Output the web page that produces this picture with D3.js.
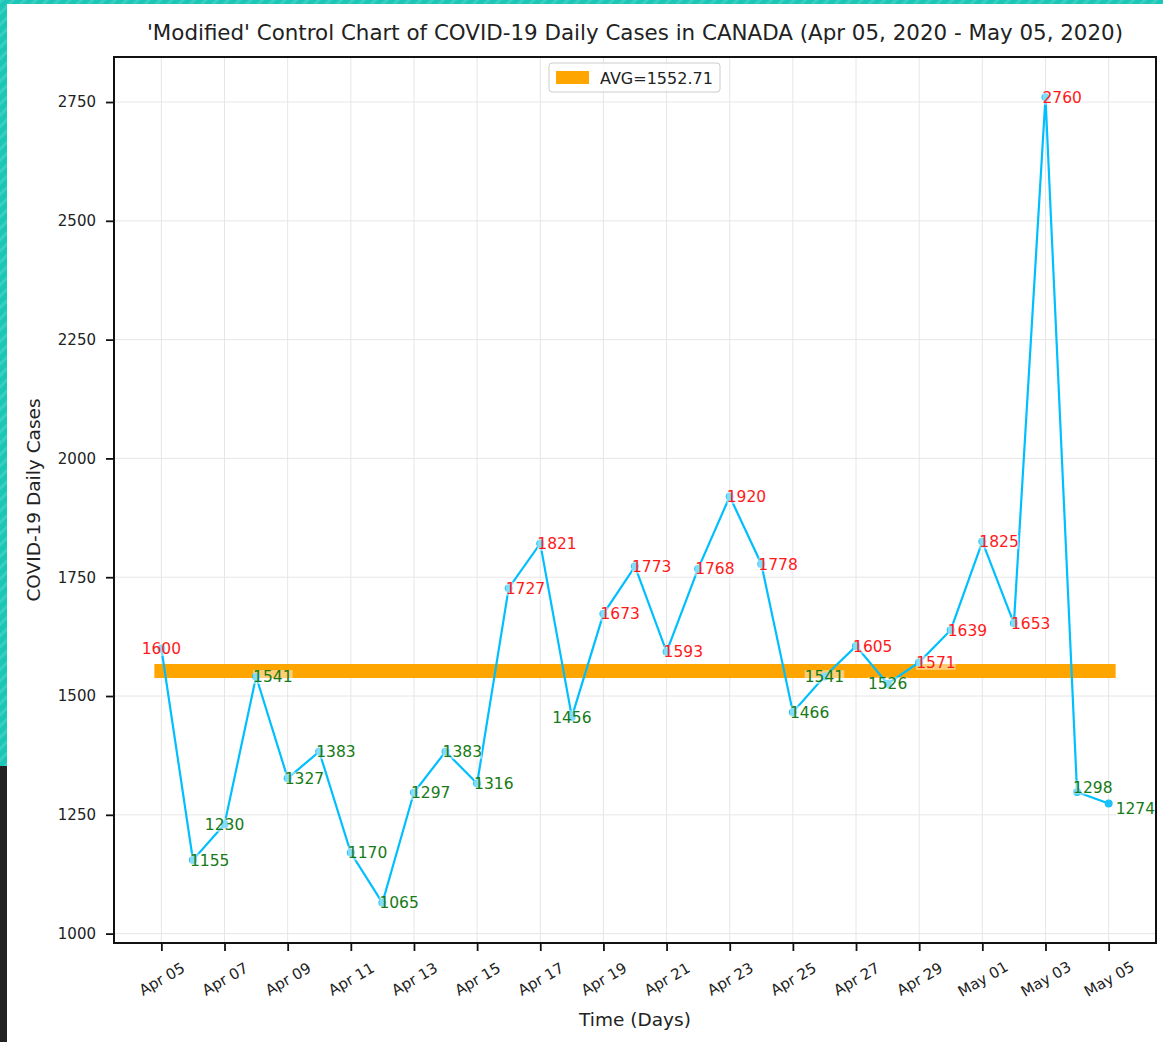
<!DOCTYPE html>
<meta charset="utf-8">
<html>
  <head>
    <style>
      body { margin: 0; background: #fff; }
      text { font-family: "DejaVu Sans", sans-serif; }
    </style>
    <script src="https://d3js.org/d3.v7.min.js"></script>
  </head>
  <body>
<div id="my_dataviz"></div>

<script>

// daily cases, Apr 05 .. May 05 2020
var dates = ["2020-04-05","2020-04-06","2020-04-07","2020-04-08","2020-04-09","2020-04-10","2020-04-11",
             "2020-04-12","2020-04-13","2020-04-14","2020-04-15","2020-04-16","2020-04-17","2020-04-18",
             "2020-04-19","2020-04-20","2020-04-21","2020-04-22","2020-04-23","2020-04-24","2020-04-25",
             "2020-04-26","2020-04-27","2020-04-28","2020-04-29","2020-04-30","2020-05-01","2020-05-02",
             "2020-05-03","2020-05-04","2020-05-05"]
var cases = [1600, 1155, 1230, 1541, 1327, 1383, 1170, 1065, 1297, 1383, 1316, 1727, 1821, 1456,
             1673, 1773, 1593, 1768, 1920, 1778, 1466, 1541, 1605, 1526, 1571, 1639, 1825, 1653,
             2760, 1298, 1274]
var yTicks = [1000, 1250, 1500, 1750, 2000, 2250, 2500, 2750]

var W = 1163, H = 1042
var margin = {top: 57, right: 7, bottom: 99, left: 114},
  width = W - margin.left - margin.right,
  height = H - margin.top - margin.bottom

var parse = d3.timeParse("%Y-%m-%d")
var data = dates.map(function(d, i) { return {date: parse(d), value: cases[i], i: i} })
var avg = d3.mean(cases)

var root = d3.select("#my_dataviz").append("svg")
  .attr("width", W).attr("height", H)

// page decoration: striped teal edge + dark strip
var defs = root.append("defs")
var pat = defs.append("pattern").attr("id", "stripes")
  .attr("width", 8).attr("height", 8)
  .attr("patternUnits", "userSpaceOnUse")
  .attr("patternTransform", "rotate(45)")
pat.append("rect").attr("width", 8).attr("height", 8).attr("fill", "#1cc6b6")
pat.append("rect").attr("width", 3).attr("height", 8).attr("fill", "#37cfc1")
root.append("rect").attr("x", 0).attr("y", 0).attr("width", W).attr("height", 4).attr("fill", "url(#stripes)")
root.append("rect").attr("x", 0).attr("y", 0).attr("width", 7).attr("height", 766).attr("fill", "url(#stripes)")
root.append("rect").attr("x", 0).attr("y", 766).attr("width", 7).attr("height", H - 766).attr("fill", "#222")

var svg = root.append("g")
  .attr("transform", "translate(" + margin.left + "," + margin.top + ")")

// scales with 5% padding, like matplotlib
var xExt = d3.extent(data, function(d) { return d.date })
var xPad = (xExt[1] - xExt[0]) * 0.05
var x = d3.scaleTime()
  .domain([new Date(+xExt[0] - xPad), new Date(+xExt[1] + xPad)])
  .range([0, width])
var yExt = d3.extent(cases)
var yPad = (yExt[1] - yExt[0]) * 0.05
var y = d3.scaleLinear()
  .domain([yExt[0] - yPad, yExt[1] + yPad])
  .range([height, 0])

var xTicks = data.filter(function(d, i) { return i % 2 == 0 }).map(function(d) { return d.date })

// grid
svg.append("g").selectAll("line").data(xTicks).enter().append("line")
  .attr("x1", function(d) { return x(d) }).attr("x2", function(d) { return x(d) })
  .attr("y1", 0).attr("y2", height)
  .attr("stroke", "#e6e6e6").attr("stroke-width", 1)
svg.append("g").selectAll("line").data(yTicks).enter().append("line")
  .attr("y1", function(d) { return y(d) }).attr("y2", function(d) { return y(d) })
  .attr("x1", 0).attr("x2", width)
  .attr("stroke", "#e6e6e6").attr("stroke-width", 1)

// average band
svg.append("line")
  .attr("x1", x(xExt[0])).attr("x2", x(xExt[1]))
  .attr("y1", y(avg)).attr("y2", y(avg))
  .attr("stroke", "orange").attr("stroke-width", 14)
  .attr("stroke-linecap", "square")

// series line + markers
svg.append("path").datum(data)
  .attr("fill", "none").attr("stroke", "#00bfff").attr("stroke-width", 2.2)
  .attr("d", d3.line().x(function(d) { return x(d.date) }).y(function(d) { return y(d.value) }))
svg.append("g").selectAll("circle").data(data).enter().append("circle")
  .attr("cx", function(d) { return x(d.date) }).attr("cy", function(d) { return y(d.value) })
  .attr("r", 4).attr("fill", "#1ec0fa")

// value labels
var centered = [0, 2, 13, 21, 23]
var labels = svg.append("g").selectAll("g").data(data).enter().append("g")
  .attr("transform", function(d) {
    var dx = centered.indexOf(d.i) >= 0 ? 0 : -3, dy = 0
    if (d.i == 30) { dx = 7; dy = 5 }
    if (d.i == 29) { dx = -4; dy = -5 }
    return "translate(" + (x(d.date) + dx) + "," + (y(d.value) + dy) + ")"
  })
labels.append("text")
  .attr("text-anchor", function(d) { return centered.indexOf(d.i) >= 0 ? "middle" : "start" })
  .attr("dy", "0.36em")
  .style("font-size", "15.5px")
  .attr("fill", function(d) { return d.value > avg ? "#ff1a1a" : "#167a16" })
  .text(function(d) { return d.value })
labels.each(function() {
  var g = d3.select(this), b = g.select("text").node().getBBox()
  g.insert("rect", "text").attr("x", b.x).attr("y", b.y + 2)
    .attr("width", b.width).attr("height", b.height - 4)
    .attr("fill", "white").attr("fill-opacity", 0.45)
})

// axes
var xAxis = svg.append("g")
  .attr("transform", "translate(0," + height + ")")
  .call(d3.axisBottom(x).tickValues(xTicks).tickFormat(d3.timeFormat("%b %d")).tickSize(8).tickPadding(4))
xAxis.attr("font-size", 15).attr("font-family", null)
xAxis.selectAll("text")
  .attr("fill", "#222")
  .attr("text-anchor", "middle")
  .attr("transform", "translate(0,36) rotate(-30)")
  .attr("y", 0).attr("dy", "0.35em")
var yAxis = svg.append("g")
  .call(d3.axisLeft(y).tickValues(yTicks).tickFormat(d3.format("d")).tickSize(8).tickPadding(10))
yAxis.attr("font-size", 15).attr("font-family", null)
yAxis.selectAll("text").attr("fill", "#222")
svg.selectAll(".domain").remove()
svg.selectAll(".tick line").attr("stroke", "#111").attr("stroke-width", 1.8)

// frame
svg.append("rect").attr("width", width).attr("height", height)
  .attr("fill", "none").attr("stroke", "#111").attr("stroke-width", 2)

// legend
var lg = svg.append("g").attr("transform", "translate(" + (435) + ",6)")
lg.append("rect").attr("width", 171).attr("height", 29).attr("rx", 3)
  .attr("fill", "white").attr("fill-opacity", 0.8).attr("stroke", "#ccc")
lg.append("rect").attr("x", 7).attr("y", 8).attr("width", 33).attr("height", 13).attr("fill", "orange")
lg.append("text").attr("x", 51).attr("y", 15).attr("dy", "0.36em")
  .style("font-size", "16px").attr("fill", "#222").text("AVG=" + avg.toFixed(2))

// titles
root.append("text").attr("x", margin.left + width / 2).attr("y", 40)
  .attr("text-anchor", "middle").style("font-size", "21.4px").attr("fill", "#222")
  .text("'Modified' Control Chart of COVID-19 Daily Cases in CANADA (Apr 05, 2020 - May 05, 2020)")
root.append("text").attr("x", margin.left + width / 2).attr("y", 1026)
  .attr("text-anchor", "middle").style("font-size", "18.5px").attr("fill", "#222")
  .text("Time (Days)")
root.append("text").attr("transform", "translate(40," + (margin.top + height / 2) + ") rotate(-90)")
  .attr("text-anchor", "middle").style("font-size", "18.5px").attr("fill", "#222")
  .text("COVID-19 Daily Cases")

</script>
</body>
</html>
